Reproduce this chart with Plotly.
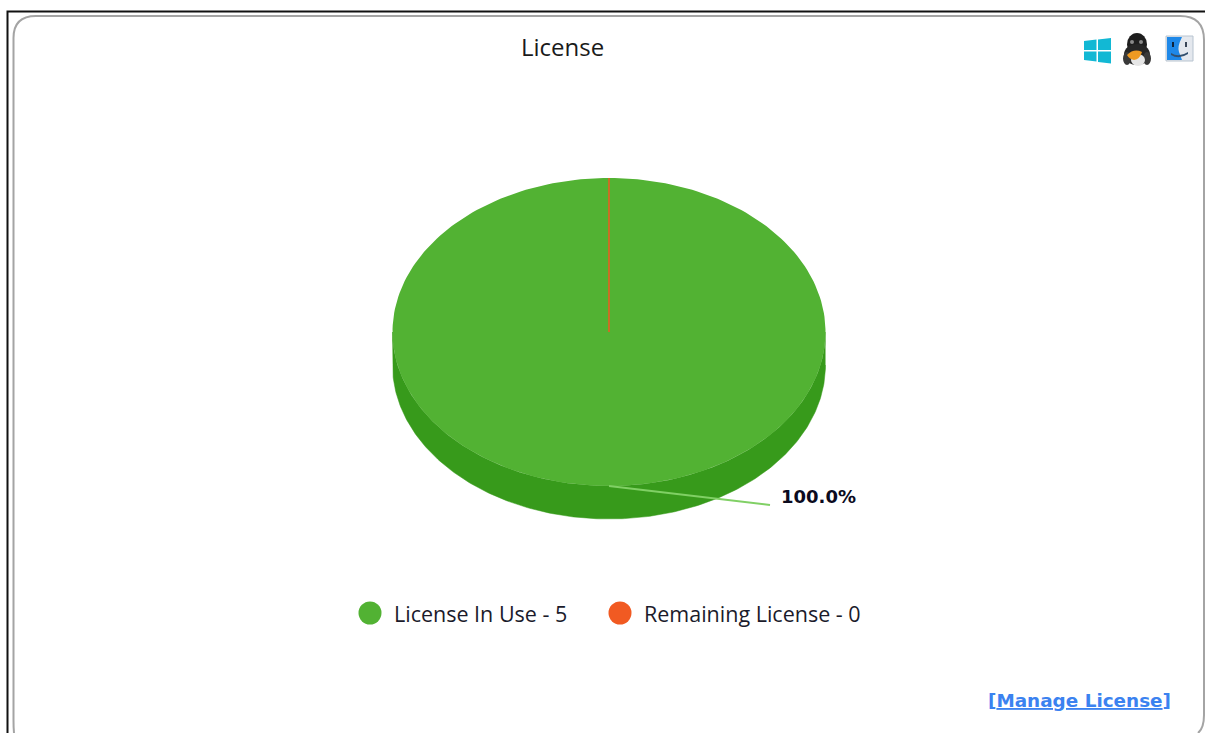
import numpy as np
import plotly.graph_objects as go

# License usage
categories = ["License In Use", "Remaining License"]
values = [5, 0]
slice_colors = ["#52B233", "#F15A22"]
side_colors = ["#379A1B", "#C8460F"]
chart_title = "License"
link_text = "Manage License"

W, H = 1205, 733
CX, CY, RX, RY, DEPTH = 609, 332, 216.5, 154, 33

total = sum(values)
edges = np.cumsum([0] + values) / total * 2 * np.pi


def rim(a0, a1, dy=0.0, n=240):
    t = np.linspace(a0, a1, n)
    return CX + RX * np.sin(t), CY + dy - RY * np.cos(t)


fig = go.Figure()

# Wall of the tilted pie: front half of the rim, extruded downward
for i in range(len(values)):
    a0 = max(edges[i], np.pi / 2)
    a1 = min(edges[i + 1], 3 * np.pi / 2)
    if a1 > a0:
        xt, yt = rim(a0, a1)
        xb, yb = rim(a1, a0, DEPTH)
        fig.add_trace(go.Scatter(
            x=np.r_[xt, xb], y=np.r_[yt, yb], mode="lines", fill="toself",
            fillcolor=side_colors[i], line=dict(color=side_colors[i], width=0.5),
            hoverinfo="skip", showlegend=False))

# Top face of each slice; an empty slice leaves only its coloured edge
for i in range(len(values)):
    xr, yr = rim(edges[i], edges[i + 1])
    fig.add_trace(go.Scatter(
        x=np.r_[CX, xr, CX], y=np.r_[CY, yr, CY], mode="lines", fill="toself",
        fillcolor=slice_colors[i],
        line=dict(color=slice_colors[i], width=1.5 if values[i] == 0 else 0),
        hoverinfo="skip", showlegend=False))

# Leader line and percentage for each non-empty slice
annotations = []
for i, v in enumerate(values):
    if v == 0:
        continue
    mid = (edges[i] + edges[i + 1]) / 2
    x0 = CX + RX * np.sin(mid)
    y0 = CY - RY * np.cos(mid)
    fig.add_trace(go.Scatter(
        x=[x0, x0 + 161], y=[y0, y0 + 19], mode="lines",
        line=dict(color="#80D065", width=2),
        hoverinfo="skip", showlegend=False))
    annotations.append(dict(
        x=x0 + 170, y=y0 + 10.5, text=f"<b>{v / total * 100:.1f}%</b>",
        xanchor="left", yanchor="middle", showarrow=False,
        font=dict(family="DejaVu Sans", size=18, color="#0b0b1e")))

# Legend row
legend_x = [370, 620]
fig.add_trace(go.Scatter(
    x=legend_x, y=[613, 613], mode="markers",
    marker=dict(size=23, color=slice_colors, line=dict(width=0)),
    hoverinfo="skip", showlegend=False))
for lx, name, v in zip(legend_x, categories, values):
    annotations.append(dict(
        x=lx + 22, y=613, text=f"{name} - {v}", xanchor="left", yanchor="middle",
        showarrow=False, font=dict(family="Open Sans", size=21.5, color="#1b1b2b")))

annotations.append(dict(
    x=562.5, y=46, text=chart_title, xanchor="center", yanchor="middle",
    showarrow=False, font=dict(family="Open Sans", size=24, color="#1a1a1a")))
annotations.append(dict(
    x=1079, y=700, text=f"<b>[<u>{link_text}</u>]</b>", xanchor="center", yanchor="middle",
    showarrow=False, font=dict(family="DejaVu Sans", size=18.4, color="#3B82F0")))


def solid(path, color):
    return dict(type="path", path=path, fillcolor=color, line=dict(width=0),
                xref="x", yref="y", layer="above")


def oval(x0, y0, x1, y1, color):
    return dict(type="circle", x0=x0, y0=y0, x1=x1, y1=y1, fillcolor=color,
                line=dict(width=0), xref="x", yref="y", layer="above")


shapes = [
    # Outer window edge and rounded panel
    dict(type="path", path=f"M7.5 733 L7.5 11.5 L{W} 11.5", line=dict(color="#111111", width=2), xref="x", yref="y"),
    dict(type="path",
         path=f"M14 733 Q13.5 728 13.5 720 L13.5 38 Q13.5 16 36 16 L1180 16 Q1204 16 1204 40 L1204 715 Q1204 728 1198 733",
         line=dict(color="#A4A4A4", width=2), xref="x", yref="y"),
    # Windows logo
    solid("M1084 41 L1096.5 39.5 L1096.5 50 L1084 50 Z", "#12B8D4"),
    solid("M1098 39.5 L1111 38 L1111 50 L1098 50 Z", "#12B8D4"),
    solid("M1084 51.5 L1096.5 51.5 L1096.5 61.5 L1084 60 Z", "#12B8D4"),
    solid("M1098 51.5 L1111 51.5 L1111 63.5 L1098 62 Z", "#12B8D4"),
    # Penguin
    oval(1127, 33, 1147, 56, "#1E1E1E"),
    oval(1124, 44, 1150, 65, "#262626"),
    oval(1123, 52, 1131, 65, "#3A3A3A"),
    oval(1143, 52, 1151, 65, "#3A3A3A"),
    oval(1131, 54, 1145, 66, "#E6E6E6"),
    oval(1130, 40, 1134, 44, "#8A8A8A"),
    oval(1139, 40, 1143, 44, "#8A8A8A"),
    solid("M1127 55 Q1134 48 1142 52 Q1140 59 1134 60 Q1129 59 1127 55 Z", "#EE9A22"),
    # Finder face
    dict(type="rect", x0=1166, y0=36, x1=1193, y1=61, fillcolor="#E4E8EE",
         line=dict(color="#B8C4D0", width=1), xref="x", yref="y", layer="above"),
    solid("M1167 37 L1182 37 Q1177 47 1179 52 L1182 60 L1167 60 Z", "#1E88E8"),
    solid("M1172 42 L1174 42 L1174 47 L1172 47 Z", "#10243C"),
    solid("M1185 42 L1187 42 L1187 47 L1185 47 Z", "#3A4656"),
    solid("M1171 53 Q1179 58 1188 52 L1188 54 Q1179 60 1171 55 Z", "#33506E"),
]

fig.update_layout(
    width=W, height=H, margin=dict(l=0, r=0, t=0, b=0),
    paper_bgcolor="white", plot_bgcolor="white", showlegend=False,
    xaxis=dict(range=[0, W], visible=False, fixedrange=True),
    yaxis=dict(range=[H, 0], visible=False, fixedrange=True),
    annotations=annotations, shapes=shapes,
)

fig.write_html("out.html", config=dict(displayModeBar=False))
